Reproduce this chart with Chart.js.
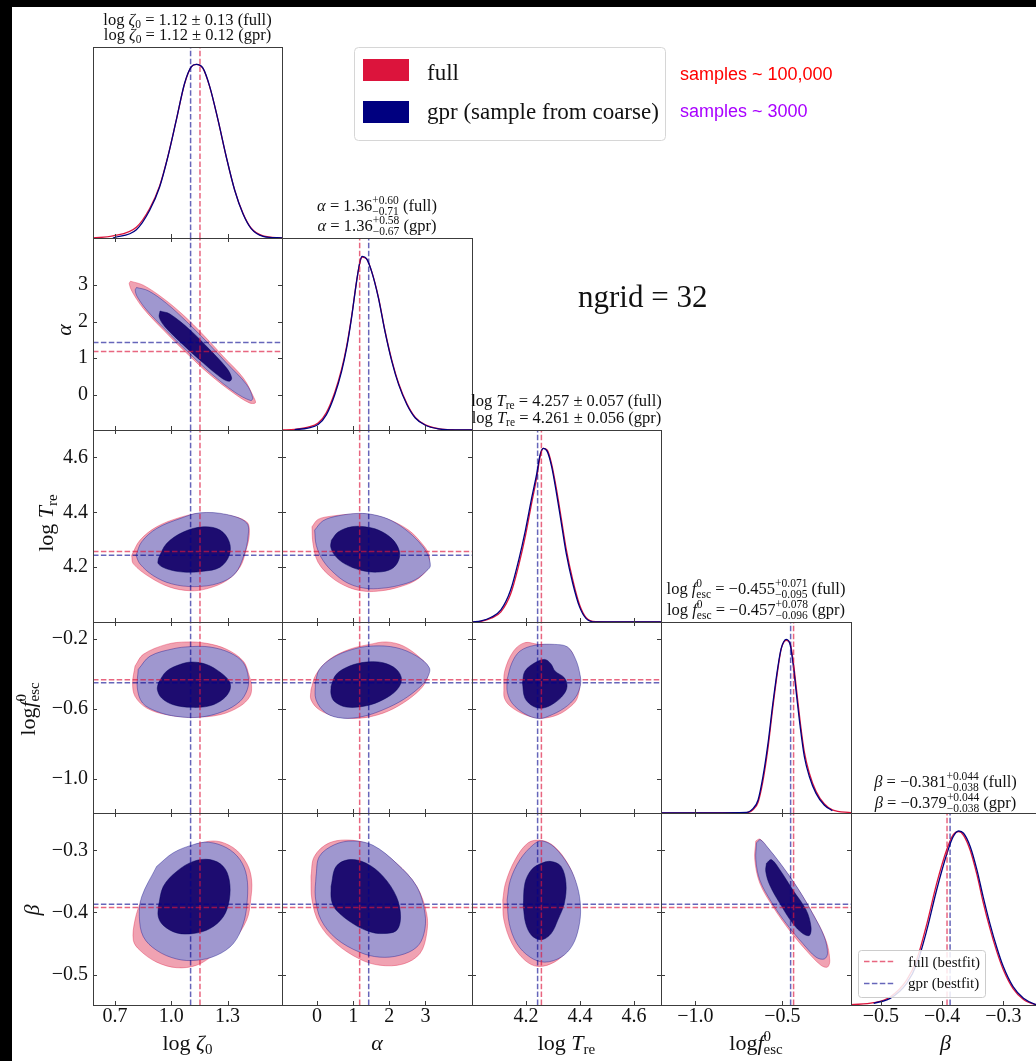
<!DOCTYPE html>
<html>
<head>
<meta charset="utf-8">
<script src="https://cdn.jsdelivr.net/npm/chart.js@4.4.1/dist/chart.umd.min.js"></script>
<style>
  html, body { margin: 0; padding: 0; background: #000; width: 1036px; height: 1061px; overflow: hidden; }
  #sheet { position: absolute; left: 12px; top: 7px; width: 1024px; height: 1054px; background: #fff; }
  #plots canvas { position: absolute; }
  #labels { position: absolute; left: 0; top: 0; pointer-events: none; }
</style>
</head>
<body>
<div id="sheet"></div>
<div id="plots"></div>
<svg id="labels" width="1036" height="1061" font-family="'Liberation Serif', 'Times New Roman', serif" fill="#111">
  <!-- marginal summaries -->
  <g font-size="16.5" text-anchor="middle">
    <text x="187.5" y="25">log <tspan font-style="italic">ζ</tspan><tspan font-size="11.5" dy="3">0</tspan><tspan dy="-3"> = 1.12 ± 0.13 (full)</tspan></text>
    <text x="187.5" y="40">log <tspan font-style="italic">ζ</tspan><tspan font-size="11.5" dy="3">0</tspan><tspan dy="-3"> = 1.12 ± 0.12 (gpr)</tspan></text>

    <text x="377" y="210.5"><tspan font-style="italic">α</tspan> = 1.36<tspan font-size="11.5" dy="-7">+0.60</tspan><tspan font-size="11.5" dx="-26.6" dy="11">−0.71</tspan><tspan dy="-4"> (full)</tspan></text>
    <text x="377" y="230.5"><tspan font-style="italic">α</tspan> = 1.36<tspan font-size="11.5" dy="-7">+0.58</tspan><tspan font-size="11.5" dx="-26.6" dy="11">−0.67</tspan><tspan dy="-4"> (gpr)</tspan></text>

    <text x="566.5" y="406">log <tspan font-style="italic">T</tspan><tspan font-size="11.5" dy="3">re</tspan><tspan dy="-3"> = 4.257 ± 0.057 (full)</tspan></text>
    <text x="566.5" y="422.5">log <tspan font-style="italic">T</tspan><tspan font-size="11.5" dy="3">re</tspan><tspan dy="-3"> = 4.261 ± 0.056 (gpr)</tspan></text>

    <text x="756" y="594">log <tspan font-style="italic">f</tspan><tspan font-size="11.5" dy="-7">0</tspan><tspan font-size="11.5" dx="-5.75" dy="11">esc</tspan><tspan dy="-4"> = −0.455</tspan><tspan font-size="11.5" dy="-7">+0.071</tspan><tspan font-size="11.5" dx="-32.4" dy="11">−0.095</tspan><tspan dy="-4"> (full)</tspan></text>
    <text x="756" y="615">log <tspan font-style="italic">f</tspan><tspan font-size="11.5" dy="-7">0</tspan><tspan font-size="11.5" dx="-5.75" dy="11">esc</tspan><tspan dy="-4"> = −0.457</tspan><tspan font-size="11.5" dy="-7">+0.078</tspan><tspan font-size="11.5" dx="-32.4" dy="11">−0.096</tspan><tspan dy="-4"> (gpr)</tspan></text>

    <text x="945.5" y="786.5"><tspan font-style="italic">β</tspan> = −0.381<tspan font-size="11.5" dy="-7">+0.044</tspan><tspan font-size="11.5" dx="-32.4" dy="11">−0.038</tspan><tspan dy="-4"> (full)</tspan></text>
    <text x="945.5" y="808"><tspan font-style="italic">β</tspan> = −0.379<tspan font-size="11.5" dy="-7">+0.044</tspan><tspan font-size="11.5" dx="-32.4" dy="11">−0.038</tspan><tspan dy="-4"> (gpr)</tspan></text>
  </g>

  <!-- axis titles -->
  <g font-size="22" text-anchor="middle">
    <text x="187.5" y="1050">log <tspan font-style="italic">ζ</tspan><tspan font-size="15" dy="4">0</tspan></text>
    <text x="377" y="1050" font-style="italic">α</text>
    <text x="566.5" y="1050">log <tspan font-style="italic">T</tspan><tspan font-size="15" dy="4">re</tspan></text>
    <text x="756" y="1050">log<tspan font-style="italic">f</tspan><tspan font-size="15" dy="-9">0</tspan><tspan font-size="15" dx="-7.5" dy="13">esc</tspan></text>
    <text x="945.5" y="1050" font-style="italic">β</text>

    <text transform="translate(71,330) rotate(-90)" font-style="italic">α</text>
    <text transform="translate(53,523) rotate(-90)">log <tspan font-style="italic">T</tspan><tspan font-size="15" dy="4">re</tspan></text>
    <text transform="translate(35,709) rotate(-90)">log<tspan font-style="italic">f</tspan><tspan font-size="15" dy="-9">0</tspan><tspan font-size="15" dx="-7.5" dy="13">esc</tspan></text>
    <text transform="translate(39,910) rotate(-90)" font-style="italic">β</text>
  </g>

  <text x="578" y="306.5" font-size="31">ngrid = 32</text>

  <!-- main legend -->
  <rect x="354.5" y="47.5" width="311" height="93" rx="4" fill="#fff" stroke="#d6d6d6"/>
  <rect x="363" y="59" width="46" height="22" fill="#dc143c"/>
  <rect x="363" y="101" width="46" height="22" fill="#000080"/>
  <text x="427" y="80" font-size="23">full</text>
  <text x="427" y="119" font-size="23">gpr (sample from coarse)</text>
  <text x="680" y="80" font-size="18" font-family="'Liberation Sans', Arial, sans-serif" fill="#ff0000">samples ~ 100,000</text>
  <text x="680" y="117" font-size="18" font-family="'Liberation Sans', Arial, sans-serif" fill="#a800ff">samples ~ 3000</text>

  <!-- bestfit legend -->
  <rect x="858.5" y="950.5" width="127" height="47" rx="3" fill="rgba(255,255,255,0.85)" stroke="#cccccc"/>
  <line x1="864" y1="961.5" x2="895" y2="961.5" stroke="rgba(220,20,60,0.65)" stroke-width="1.5" stroke-dasharray="5.5 2.4"/>
  <line x1="864" y1="983.5" x2="895" y2="983.5" stroke="rgba(0,0,140,0.6)" stroke-width="1.5" stroke-dasharray="5.5 2.4"/>
  <text x="908" y="967" font-size="15">full (bestfit)</text>
  <text x="908" y="988" font-size="15">gpr (bestfit)</text>
</svg>

<script>
// ---- parameter axes ----
const zetaRange = [0.583, 1.590];
const alphaRange = [-0.97, 4.29];
const tempRange = [4.0, 4.70];
const fescRange = [-1.197, -0.105];
const betaRange = [-0.549, -0.240];

const zetaTicks = [0.7, 1.0, 1.3];
const zetaTickLabels = ['0.7', '1.0', '1.3'];
const alphaTicks = [0, 1, 2, 3];
const alphaTickLabels = ['0', '1', '2', '3'];
const tempTicks = [4.2, 4.4, 4.6];
const tempTickLabels = ['4.2', '4.4', '4.6'];
const fescTicksX = [-1.0, -0.5];
const fescTickLabelsX = ['−1.0', '−0.5'];
const fescTicksY = [-1.0, -0.6, -0.2];
const fescTickLabelsY = ['−1.0', '−0.6', '−0.2'];
const betaTicks = [-0.5, -0.4, -0.3];
const betaTickLabels = ['−0.5', '−0.4', '−0.3'];

// best-fit points (zeta, alpha, logT, fesc, beta)
const bestFull = [1.153, 1.18, 4.257, -0.435, -0.392];
const bestGpr = [1.103, 1.43, 4.243, -0.452, -0.387];

// ---- 1D marginals (normalised to peak = 1) ----
const zetaGrid = [0.583, 0.689, 0.814, 0.885, 0.938, 0.982, 1.027, 1.071, 1.107, 1.133, 1.169, 1.205, 1.249, 1.293, 1.338, 1.382, 1.426, 1.489, 1.590];
const zetaFull = [0, 0.012, 0.062, 0.170, 0.300, 0.470, 0.680, 0.888, 0.985, 1.0, 0.976, 0.870, 0.680, 0.468, 0.276, 0.142, 0.056, 0.012, 0];
const zetaGpr = [null, 0, 0.048, 0.160, 0.294, 0.468, 0.680, 0.891, 0.987, 1.0, 0.978, 0.872, 0.680, 0.468, 0.275, 0.140, 0.054, 0.010, 0];

const alphaGrid = [-0.97, -0.62, -0.25, 0.03, 0.26, 0.49, 0.68, 0.82, 0.955, 1.095, 1.19, 1.25, 1.37, 1.51, 1.70, 1.88, 2.07, 2.26, 2.49, 2.72, 3.00, 3.37, 3.83, 4.29];
const alphaFull = [0, 0.004, 0.016, 0.040, 0.100, 0.215, 0.348, 0.480, 0.648, 0.852, 0.962, 0.990, 0.980, 0.910, 0.760, 0.570, 0.400, 0.266, 0.150, 0.072, 0.029, 0.007, 0.001, 0];
const alphaGpr = [null, 0.002, 0.011, 0.031, 0.088, 0.202, 0.336, 0.470, 0.642, 0.852, 0.966, 0.995, 0.982, 0.909, 0.756, 0.565, 0.393, 0.260, 0.145, 0.069, 0.027, 0.006, 0, 0];

const tempGrid = [4.0, 4.034, 4.071, 4.107, 4.143, 4.173, 4.198, 4.222, 4.240, 4.252, 4.264, 4.279, 4.295, 4.313, 4.331, 4.349, 4.373, 4.398, 4.422, 4.458, 4.70];
const tempFull = [0, 0.004, 0.022, 0.058, 0.160, 0.325, 0.495, 0.690, 0.830, 0.945, 0.995, 0.985, 0.905, 0.760, 0.590, 0.418, 0.242, 0.100, 0.026, 0.002, 0];
const tempGpr = [0, 0.006, 0.027, 0.069, 0.183, 0.355, 0.527, 0.718, 0.852, 0.957, 0.995, 0.976, 0.890, 0.737, 0.565, 0.393, 0.222, 0.088, 0.021, 0, 0];

const fescGrid = [-1.197, -0.705, -0.667, -0.639, -0.611, -0.582, -0.554, -0.525, -0.506, -0.477, -0.454, -0.436, -0.417, -0.397, -0.373, -0.344, -0.306, -0.259, -0.212, -0.105];
const fescFull = [0, 0.002, 0.020, 0.062, 0.185, 0.375, 0.610, 0.830, 0.945, 0.995, 0.975, 0.865, 0.700, 0.525, 0.350, 0.228, 0.125, 0.053, 0.018, 0.002];
const fescGpr = [0, 0.004, 0.027, 0.075, 0.209, 0.401, 0.632, 0.843, 0.948, 1.0, 0.967, 0.843, 0.670, 0.497, 0.324, 0.209, 0.113, 0.046, 0.013, null];

const betaGrid = [-0.549, -0.512, -0.485, -0.458, -0.441, -0.425, -0.409, -0.392, -0.382, -0.373, -0.365, -0.354, -0.343, -0.333, -0.322, -0.311, -0.300, -0.284, -0.267, -0.248, -0.240];
const betaFull = [0.002, 0.013, 0.046, 0.142, 0.265, 0.465, 0.695, 0.895, 0.975, 0.993, 0.972, 0.885, 0.745, 0.590, 0.440, 0.310, 0.202, 0.094, 0.032, 0.003, 0];
const betaGpr = [null, 0.010, 0.038, 0.124, 0.239, 0.430, 0.659, 0.869, 0.964, 0.997, 0.984, 0.907, 0.773, 0.621, 0.468, 0.334, 0.220, 0.105, 0.038, 0.004, 0];

// ---- 2D credible regions: outer (95%) for both runs, inner (68%) for gpr ----
// zeta - alpha
const zaFull = [[0.783,3.106],[0.851,2.997],[0.958,2.634],[1.064,2.180],[1.171,1.635],[1.277,1.045],[1.384,0.454],[1.441,-0.091],[1.448,-0.227],[1.416,-0.227],[1.331,0.045],[1.206,0.545],[1.082,1.135],[0.958,1.771],[0.851,2.361],[0.792,2.816],[0.776,3.043]];
const zaGpr = [[0.815,2.934],[0.878,2.843],[0.975,2.498],[1.082,1.998],[1.188,1.453],[1.295,0.863],[1.402,0.272],[1.434,-0.091],[1.423,-0.163],[1.339,0.064],[1.215,0.563],[1.091,1.153],[0.966,1.789],[0.869,2.316],[0.819,2.679],[0.808,2.861]];
const zaCore = [[0.940,2.289],[0.993,2.207],[1.100,1.771],[1.206,1.226],[1.295,0.727],[1.322,0.454],[1.309,0.363],[1.268,0.454],[1.171,0.863],[1.064,1.362],[0.966,1.862],[0.936,2.116]];
// zeta - logT
const ztFull = [[0.789,4.243],[0.833,4.298],[0.922,4.347],[1.046,4.381],[1.153,4.396],[1.295,4.390],[1.402,4.365],[1.416,4.322],[1.398,4.261],[1.366,4.200],[1.295,4.151],[1.188,4.121],[1.100,4.114],[0.993,4.127],[0.887,4.163],[0.798,4.212]];
const ztGpr = [[0.812,4.243],[0.842,4.292],[0.922,4.341],[1.046,4.377],[1.153,4.398],[1.295,4.392],[1.402,4.361],[1.409,4.310],[1.387,4.243],[1.339,4.176],[1.251,4.141],[1.126,4.129],[1.002,4.139],[0.904,4.169],[0.833,4.212]];
const ztCore = [[0.931,4.231],[0.975,4.286],[1.064,4.328],[1.171,4.347],[1.260,4.335],[1.309,4.292],[1.309,4.243],[1.260,4.200],[1.171,4.185],[1.064,4.182],[0.975,4.194],[0.931,4.212]];
// zeta - fesc
const zfFull = [[0.807,-0.357],[0.851,-0.290],[0.975,-0.233],[1.082,-0.219],[1.188,-0.227],[1.295,-0.261],[1.384,-0.329],[1.416,-0.415],[1.428,-0.472],[1.419,-0.530],[1.366,-0.587],[1.260,-0.635],[1.117,-0.649],[0.975,-0.635],[0.869,-0.597],[0.807,-0.530],[0.794,-0.453]];
const zfGpr = [[0.824,-0.376],[0.887,-0.300],[1.011,-0.258],[1.100,-0.246],[1.206,-0.248],[1.313,-0.281],[1.384,-0.338],[1.411,-0.424],[1.405,-0.492],[1.366,-0.559],[1.277,-0.616],[1.153,-0.649],[1.029,-0.645],[0.922,-0.616],[0.847,-0.568],[0.819,-0.482]];
const zfCore = [[0.931,-0.453],[0.975,-0.386],[1.046,-0.348],[1.109,-0.334],[1.188,-0.348],[1.260,-0.392],[1.309,-0.444],[1.313,-0.492],[1.277,-0.545],[1.206,-0.584],[1.109,-0.593],[1.011,-0.578],[0.949,-0.540],[0.926,-0.492]];
// zeta - beta
const zbFull = [[1.082,-0.296],[1.224,-0.285],[1.331,-0.296],[1.402,-0.321],[1.428,-0.348],[1.423,-0.380],[1.402,-0.412],[1.331,-0.445],[1.224,-0.469],[1.135,-0.485],[1.029,-0.489],[0.922,-0.480],[0.833,-0.461],[0.798,-0.445],[0.807,-0.412],[0.842,-0.380],[0.904,-0.348],[0.993,-0.315]];
const zbGpr = [[0.922,-0.326],[1.011,-0.304],[1.117,-0.291],[1.197,-0.287],[1.295,-0.296],[1.366,-0.315],[1.402,-0.342],[1.405,-0.380],[1.384,-0.418],[1.331,-0.450],[1.242,-0.469],[1.135,-0.477],[1.029,-0.475],[0.922,-0.461],[0.851,-0.439],[0.830,-0.407],[0.842,-0.375]];
const zbCore = [[0.931,-0.391],[0.958,-0.358],[1.029,-0.334],[1.117,-0.318],[1.206,-0.315],[1.277,-0.326],[1.309,-0.348],[1.309,-0.380],[1.277,-0.407],[1.206,-0.426],[1.117,-0.434],[1.029,-0.433],[0.958,-0.421],[0.931,-0.407]];
// alpha - logT
const atFull = [[-0.140,4.347],[0.027,4.374],[0.398,4.386],[0.955,4.393],[1.420,4.392],[1.977,4.374],[2.534,4.335],[2.905,4.286],[3.091,4.249],[3.110,4.218],[3.045,4.190],[2.720,4.151],[2.255,4.127],[1.791,4.114],[1.327,4.112],[0.863,4.127],[0.398,4.163],[0.027,4.218],[-0.112,4.286]];
const atGpr = [[-0.066,4.335],[0.166,4.369],[0.584,4.387],[1.141,4.396],[1.605,4.390],[2.070,4.369],[2.534,4.328],[2.905,4.279],[3.072,4.243],[3.137,4.206],[3.072,4.191],[2.720,4.154],[2.255,4.133],[1.791,4.123],[1.327,4.123],[0.863,4.141],[0.491,4.176],[0.166,4.224],[-0.020,4.279]];
const atCore = [[0.398,4.298],[0.584,4.328],[0.955,4.347],[1.327,4.347],[1.698,4.335],[2.070,4.304],[2.274,4.261],[2.255,4.224],[2.070,4.194],[1.698,4.182],[1.234,4.188],[0.770,4.212],[0.491,4.243],[0.380,4.273]];
// alpha - fesc
const afFull = [[-0.168,-0.492],[-0.029,-0.405],[0.343,-0.319],[0.900,-0.261],[1.457,-0.233],[1.921,-0.219],[2.385,-0.242],[2.850,-0.309],[3.082,-0.367],[3.035,-0.434],[2.850,-0.492],[2.385,-0.568],[1.828,-0.626],[1.178,-0.655],[0.528,-0.645],[0.064,-0.607],[-0.168,-0.549]];
const afGpr = [[-0.047,-0.453],[0.064,-0.376],[0.435,-0.309],[0.993,-0.261],[1.550,-0.242],[2.200,-0.252],[2.757,-0.300],[3.110,-0.367],[3.054,-0.424],[2.850,-0.476],[2.385,-0.549],[1.828,-0.607],[1.271,-0.645],[0.714,-0.655],[0.250,-0.626],[-0.029,-0.549]];
const afCore = [[0.389,-0.472],[0.528,-0.405],[0.900,-0.357],[1.364,-0.334],[1.828,-0.338],[2.200,-0.376],[2.339,-0.434],[2.200,-0.495],[1.828,-0.549],[1.364,-0.584],[0.807,-0.591],[0.482,-0.559],[0.389,-0.520]];
// alpha - beta
const abFull = [[-0.168,-0.342],[-0.075,-0.310],[0.343,-0.288],[0.993,-0.284],[1.550,-0.294],[2.200,-0.321],[2.757,-0.358],[3.035,-0.402],[3.035,-0.434],[2.850,-0.466],[2.385,-0.483],[1.735,-0.485],[1.178,-0.475],[0.528,-0.450],[0.064,-0.418],[-0.140,-0.380]];
const abGpr = [[-0.029,-0.342],[0.064,-0.310],[0.482,-0.291],[0.993,-0.285],[1.550,-0.292],[2.200,-0.321],[2.757,-0.358],[2.989,-0.402],[2.961,-0.434],[2.757,-0.456],[2.292,-0.469],[1.735,-0.472],[1.178,-0.464],[0.528,-0.442],[0.111,-0.412],[-0.047,-0.375]];
const abCore = [[0.389,-0.358],[0.528,-0.326],[0.900,-0.315],[1.364,-0.321],[1.828,-0.342],[2.200,-0.375],[2.312,-0.407],[2.200,-0.429],[1.828,-0.434],[1.457,-0.431],[0.993,-0.418],[0.528,-0.396],[0.399,-0.380]];
// logT - fesc
const tfFull = [[4.118,-0.482],[4.121,-0.386],[4.154,-0.271],[4.196,-0.223],[4.245,-0.233],[4.305,-0.238],[4.360,-0.258],[4.384,-0.338],[4.400,-0.434],[4.390,-0.540],[4.366,-0.587],[4.318,-0.635],[4.257,-0.655],[4.196,-0.635],[4.142,-0.587],[4.120,-0.540]];
const tfGpr = [[4.130,-0.434],[4.148,-0.338],[4.178,-0.271],[4.233,-0.238],[4.305,-0.233],[4.354,-0.248],[4.384,-0.319],[4.400,-0.405],[4.402,-0.463],[4.384,-0.534],[4.342,-0.597],[4.281,-0.645],[4.245,-0.657],[4.196,-0.630],[4.150,-0.572],[4.131,-0.507]];
const tfCore = [[4.187,-0.453],[4.196,-0.386],[4.233,-0.338],[4.269,-0.319],[4.291,-0.342],[4.308,-0.386],[4.342,-0.424],[4.352,-0.472],[4.339,-0.520],[4.305,-0.568],[4.263,-0.597],[4.227,-0.587],[4.196,-0.540]];
// logT - beta
const tbFull = [[4.114,-0.380],[4.124,-0.353],[4.160,-0.315],[4.208,-0.288],[4.257,-0.284],[4.305,-0.294],[4.354,-0.321],[4.384,-0.353],[4.396,-0.391],[4.390,-0.429],[4.354,-0.461],[4.305,-0.480],[4.245,-0.487],[4.196,-0.477],[4.148,-0.450],[4.118,-0.412]];
const tbGpr = [[4.130,-0.380],[4.142,-0.348],[4.178,-0.315],[4.227,-0.291],[4.259,-0.285],[4.305,-0.295],[4.360,-0.326],[4.390,-0.358],[4.402,-0.391],[4.396,-0.423],[4.372,-0.453],[4.330,-0.472],[4.269,-0.480],[4.215,-0.472],[4.166,-0.450],[4.138,-0.418]];
const tbCore = [[4.190,-0.391],[4.196,-0.353],[4.221,-0.331],[4.257,-0.321],[4.293,-0.318],[4.330,-0.326],[4.348,-0.353],[4.342,-0.385],[4.318,-0.412],[4.293,-0.434],[4.257,-0.444],[4.221,-0.437],[4.199,-0.418]];
// fesc - beta
const fbFull = [[-0.652,-0.285],[-0.629,-0.282],[-0.591,-0.294],[-0.515,-0.321],[-0.420,-0.358],[-0.325,-0.402],[-0.249,-0.445],[-0.227,-0.477],[-0.240,-0.488],[-0.278,-0.485],[-0.363,-0.461],[-0.458,-0.429],[-0.553,-0.391],[-0.629,-0.353],[-0.658,-0.315]];
const fbGpr = [[-0.648,-0.288],[-0.626,-0.283],[-0.582,-0.296],[-0.506,-0.323],[-0.411,-0.361],[-0.325,-0.402],[-0.259,-0.439],[-0.240,-0.466],[-0.259,-0.475],[-0.306,-0.472],[-0.382,-0.450],[-0.477,-0.418],[-0.563,-0.383],[-0.629,-0.348],[-0.652,-0.315]];
const fbCore = [[-0.591,-0.321],[-0.563,-0.315],[-0.515,-0.331],[-0.439,-0.364],[-0.363,-0.396],[-0.335,-0.423],[-0.344,-0.437],[-0.382,-0.434],[-0.439,-0.418],[-0.515,-0.385],[-0.572,-0.356],[-0.595,-0.334]];

// ---- styling ----
const FULL_LINE = '#dc143c';
const GPR_LINE = '#000080';
const FULL_FILL = '#f0a2b2';
const GPR_FILL = '#9f97cf';
const GPR_CORE = '#1d0c70';
const FULL_DASH = 'rgba(220,20,60,0.65)';
const GPR_DASH = 'rgba(0,0,140,0.6)';
const SERIF = "'Liberation Serif', 'Times New Roman', serif";

// grid of panels (pixel boxes)
const panelLeft = [93, 282, 472, 661, 851];
const panelRight = [282, 472, 661, 851, 1040];
const panelTop = [47, 238, 430, 622, 813];
const panelBottom = [238, 430, 622, 813, 1005];
// canvas margins around each panel; top/right are generous so label padding never squeezes the plot area
const ML = 90, MR = 20, MT = 20, MB = 40;

const params = [
  { range: zetaRange, tx: zetaTicks, lx: zetaTickLabels, ty: zetaTicks, ly: zetaTickLabels, grid: zetaGrid, full: zetaFull, gpr: zetaGpr },
  { range: alphaRange, tx: alphaTicks, lx: alphaTickLabels, ty: alphaTicks, ly: alphaTickLabels, grid: alphaGrid, full: alphaFull, gpr: alphaGpr },
  { range: tempRange, tx: tempTicks, lx: tempTickLabels, ty: tempTicks, ly: tempTickLabels, grid: tempGrid, full: tempFull, gpr: tempGpr },
  { range: fescRange, tx: fescTicksX, lx: fescTickLabelsX, ty: fescTicksY, ly: fescTickLabelsY, grid: fescGrid, full: fescFull, gpr: fescGpr },
  { range: betaRange, tx: betaTicks, lx: betaTickLabels, ty: betaTicks, ly: betaTickLabels, grid: betaGrid, full: betaFull, gpr: betaGpr }
];

// which regions go in which panel: key = row + '' + col
const regions = {
  '10': [zaFull, zaGpr, zaCore],
  '20': [ztFull, ztGpr, ztCore],
  '30': [zfFull, zfGpr, zfCore],
  '40': [zbFull, zbGpr, zbCore],
  '21': [atFull, atGpr, atCore],
  '31': [afFull, afGpr, afCore],
  '41': [abFull, abGpr, abCore],
  '32': [tfFull, tfGpr, tfCore],
  '42': [tbFull, tbGpr, tbCore],
  '43': [fbFull, fbGpr, fbCore]
};

// frame + inward tick marks like a matplotlib corner plot
const framePlugin = {
  id: 'frame',
  afterDatasetsDraw(chart, args, opts) {
    const { ctx, chartArea: a } = chart;
    const { x, y } = chart.scales;
    const tk = 4;
    ctx.save();
    ctx.strokeStyle = '#3c3c3c';
    ctx.lineWidth = 1;
    ctx.beginPath();
    x.ticks.forEach(t => {
      const px = Math.round(x.getPixelForValue(t.value)) + 0.5;
      ctx.moveTo(px, a.bottom); ctx.lineTo(px, a.bottom - tk);
      if (opts.allSides) { ctx.moveTo(px, a.top); ctx.lineTo(px, a.top + tk); }
    });
    if (opts.allSides) {
      y.ticks.forEach(t => {
        const py = Math.round(y.getPixelForValue(t.value)) + 0.5;
        ctx.moveTo(a.left, py); ctx.lineTo(a.left + tk, py);
        ctx.moveTo(a.right, py); ctx.lineTo(a.right - tk, py);
      });
    }
    ctx.stroke();
    ctx.strokeRect(a.left + 0.5, a.top + 0.5, a.right - a.left, a.bottom - a.top);
    ctx.restore();
  }
};

function axis(range, ticks, labels, showLabels, isX) {
  return {
    type: 'linear',
    min: range[0],
    max: range[1],
    grid: { display: false, drawTicks: false },
    border: { display: false },
    afterBuildTicks: s => { s.ticks = ticks.map(v => ({ value: v })); },
    afterFit: s => { if (isX) s.height = MB; else s.width = ML; },
    ticks: {
      display: showLabels,
      autoSkip: false,
      maxRotation: 0,
      minRotation: 0,
      padding: isX ? 2 : 5,
      color: '#111',
      font: { family: SERIF, size: 20, lineHeight: 1 },
      callback: (v, i) => labels[i]
    }
  };
}

const pts = arr => arr.map(p => ({ x: p[0], y: p[1] }));

function region(arr, fillColor, edgeColor, order) {
  return {
    data: pts(arr.concat([arr[0]])),
    fill: 'shape',
    backgroundColor: fillColor,
    borderColor: edgeColor,
    borderWidth: 0.8,
    pointRadius: 0,
    tension: 0.35,
    order
  };
}

function dashed(points, color, order) {
  return {
    data: points,
    borderColor: color,
    borderWidth: 1.5,
    borderDash: [5.5, 2.4],
    pointRadius: 0,
    fill: false,
    tension: 0,
    order
  };
}

function marginal(grid, vals, color, order) {
  return {
    data: grid.map((g, i) => ({ x: g, y: vals[i] })),
    borderColor: color,
    borderWidth: 1.3,
    pointRadius: 0,
    fill: false,
    cubicInterpolationMode: 'monotone',
    order
  };
}

function makePanel(row, col) {
  const w = panelRight[col] - panelLeft[col];
  const h = panelBottom[row] - panelTop[row];
  const cv = document.createElement('canvas');
  cv.width = w + ML + MR;
  cv.height = h + MT + MB;
  cv.style.left = (panelLeft[col] - ML) + 'px';
  cv.style.top = (panelTop[row] - MT) + 'px';
  document.getElementById('plots').appendChild(cv);

  const px = params[col];
  const diag = row === col;
  const datasets = [];
  let yAxis;

  if (diag) {
    const yr = [0, 1.1];
    datasets.push(marginal(px.grid, px.full, FULL_LINE, 4));
    datasets.push(marginal(px.grid, px.gpr, GPR_LINE, 3));
    datasets.push(dashed([{ x: bestFull[col], y: yr[0] }, { x: bestFull[col], y: yr[1] }], FULL_DASH, 2));
    datasets.push(dashed([{ x: bestGpr[col], y: yr[0] }, { x: bestGpr[col], y: yr[1] }], GPR_DASH, 1));
    yAxis = axis(yr, [0, 1], ['', ''], false, false);
  } else {
    const py = params[row];
    const [full, gpr, core] = regions[row + '' + col];
    datasets.push(region(full, FULL_FILL, 'rgba(220,20,60,0.45)', 10));
    datasets.push(region(gpr, GPR_FILL, 'rgba(0,0,128,0.45)', 9));
    datasets.push(region(core, GPR_CORE, 'rgba(0,0,90,0.6)', 8));
    datasets.push(dashed([{ x: bestFull[col], y: py.range[0] }, { x: bestFull[col], y: py.range[1] }], FULL_DASH, 5));
    datasets.push(dashed([{ x: px.range[0], y: bestFull[row] }, { x: px.range[1], y: bestFull[row] }], FULL_DASH, 4));
    datasets.push(dashed([{ x: bestGpr[col], y: py.range[0] }, { x: bestGpr[col], y: py.range[1] }], GPR_DASH, 3));
    datasets.push(dashed([{ x: px.range[0], y: bestGpr[row] }, { x: px.range[1], y: bestGpr[row] }], GPR_DASH, 2));
    yAxis = axis(py.range, py.ty, py.ly, col === 0, false);
  }

  new Chart(cv, {
    type: 'line',
    data: { datasets },
    options: {
      responsive: false,
      animation: false,
      events: [],
      devicePixelRatio: 1,
      layout: { padding: { left: 0, top: MT, right: MR, bottom: 0 }, autoPadding: false },
      plugins: {
        legend: { display: false },
        tooltip: { enabled: false },
        frame: { allSides: !diag }
      },
      scales: {
        x: axis(px.range, px.tx, px.lx, row === 4, true),
        y: yAxis
      }
    },
    plugins: [framePlugin]
  });
}

for (let row = 0; row < 5; row++) {
  for (let col = 0; col <= row; col++) makePanel(row, col);
}
</script>
</body>
</html>
